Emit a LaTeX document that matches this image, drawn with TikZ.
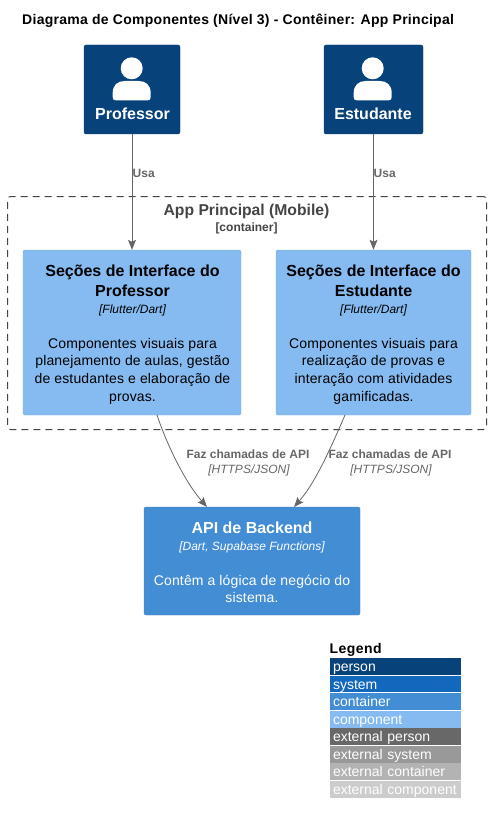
\documentclass[tikz,border=0pt]{standalone}
\usepackage{fontspec}
\setmainfont{Liberation Sans}
\usetikzlibrary{arrows.meta}
\definecolor{personblue}{HTML}{08427B}
\definecolor{systemblue}{HTML}{1168BD}
\definecolor{containerblue}{HTML}{438DD5}
\definecolor{componentblue}{HTML}{85BBF0}
\definecolor{extperson}{HTML}{686868}
\definecolor{extsystem}{HTML}{999999}
\definecolor{extcontainer}{HTML}{B3B3B3}
\definecolor{extcomponent}{HTML}{CCCCCC}
\definecolor{relgrey}{HTML}{666666}
\definecolor{boundgrey}{HTML}{444444}
\newcommand{\boxtitle}{\fontsize{16}{17.6}\bfseries\upshape\selectfont}
\newcommand{\boxtech}{\fontsize{12}{17.6}\mdseries\itshape\selectfont}
\newcommand{\boxdesc}{\fontsize{14}{17.6}\mdseries\upshape\selectfont\addfontfeature{LetterSpace=1}}
\newcommand{\personicon}[1]{%
\begin{scope}[shift={(#1,0)}]
\fill[white] (0,68.3) circle (11) ;
\fill[white] (-19,97) -- (-19,93) .. controls (-19,85) and (-14,81) .. (-7,81) -- (7,81) .. controls (14,81) and (19,85) .. (19,93) -- (19,97) .. controls (19,99.5) and (18,100.3) .. (16,100.3) -- (-16,100.3) .. controls (-18,100.3) and (-19,99.5) .. (-19,97) -- cycle ;
\end{scope}}
\tikzset{
  personbox/.style={draw=personblue!90!black, fill=personblue, rounded corners=2pt, minimum height=89pt, inner sep=0pt},
  compbox/.style={draw=componentblue!92!black, fill=componentblue, rounded corners=2pt, minimum height=165pt, inner sep=0pt},
  apibox/.style={draw=containerblue!92!black, fill=containerblue, rounded corners=2pt, minimum width=216pt, minimum height=108pt, inner sep=0pt},
  boxbody/.style={anchor=base, inner sep=0pt, align=center, font=\fontsize{14}{17.6}\selectfont, execute at begin node={\lineskiplimit=-50pt}},
  rel/.style={draw=relgrey, line width=0.8pt, -{Stealth[length=10pt,width=8pt,inset=2pt]}},
  rellabel/.style={text=relgrey, inner sep=0pt, align=center},
  legendrow/.style={anchor=north west, text width=125pt, text height=13.5pt, text depth=3pt, inner xsep=3pt, inner ysep=0pt, outer sep=0pt, text=white, font=\fontsize{14}{16}\selectfont},
}
\begin{document}
\begin{tikzpicture}[x=1pt,y=-1pt]
\useasboundingbox (0,0) rectangle (491,824) ;
\node[anchor=base west, inner sep=0pt, font=\fontsize{14}{16}\bfseries\selectfont\addfontfeature{LetterSpace=2}] (title) at (22,25) {Diagrama de Componentes (Nível 3) - Contêiner: App Principal} ;
% boundary
\node[draw=boundgrey, dash pattern=on 7pt off 5pt, rounded corners=3pt, line width=1pt, minimum width=479pt, minimum height=233pt, inner sep=0pt] (appbound) at (247,313) {} ;
\node[anchor=base, inner sep=0pt, text=boundgrey, font=\fontsize{15.7}{18}\bfseries\selectfont] (boundtitle) at (246.5,215) {App Principal (Mobile)} ;
\node[anchor=base, inner sep=0pt, text=boundgrey, font=\fontsize{12}{14}\bfseries\selectfont] (boundtype) at (246.5,231) {[container]} ;
% persons
\node[personbox, minimum width=96pt] (prof) at (132,89.5) {} ;
\node[personbox, minimum width=99pt] (estud) at (373.5,89.5) {} ;
\personicon{131.7}
\personicon{372.7}
\node[anchor=base, inner sep=0pt, text=white, font=\fontsize{16}{18}\bfseries\selectfont] (proflabel) at (132.5,120) {Professor} ;
\node[anchor=base, inner sep=0pt, text=white, font=\fontsize{16}{18}\bfseries\selectfont] (estudlabel) at (373,120) {Estudante} ;
% components
\node[compbox, minimum width=218pt] (secprof) at (132,332.5) {} ;
\node[compbox, minimum width=195pt] (secestud) at (373.5,332.5) {} ;
\node[apibox] (api) at (252,561) {} ;
\node[boxbody] (secproftext) at (132.5,401) {\boxtitle Seções de Interface do\\[2.4pt]\boxtitle Professor\\[-1.3pt]\boxtech [Flutter/Dart]\\[17.4pt]\boxdesc Componentes visuais para\\\boxdesc planejamento de aulas, gestão\\\boxdesc de estudantes e elaboração de\\\boxdesc provas.} ;
\node[boxbody] (secestudtext) at (373.5,401) {\boxtitle Seções de Interface do\\[2.4pt]\boxtitle Estudante\\[-1.3pt]\boxtech [Flutter/Dart]\\[17.4pt]\boxdesc Componentes visuais para\\\boxdesc realização de provas e\\\boxdesc interação com atividades\\\boxdesc gamificadas.} ;
\node[boxbody, text=white] (apitext) at (252,602.7) {\boxtitle API de Backend\\[-0.9pt]\boxtech [Dart, Supabase Functions]\\[17.4pt]\boxdesc Contêm a lógica de negócio do\\\boxdesc sistema.} ;
% relations
\draw[rel] (prof.south) -- (secprof.north) ;
\draw[rel] (estud.south) -- (secestud.north) ;
\coordinate (profout) at (157,415) ;
\coordinate (estudout) at (345,415) ;
\coordinate (apileft) at (207,507) ;
\coordinate (apiright) at (294,507) ;
\draw[rel] (profout) .. controls (167,445) and (185,482) .. (apileft) ;
\draw[rel] (estudout) .. controls (332,445) and (316,482) .. (apiright) ;
\node[rellabel, anchor=base west, font=\fontsize{12}{14}\bfseries\selectfont] (usaprof) at (132.5,177) {Usa} ;
\node[rellabel, anchor=base west, font=\fontsize{12}{14}\bfseries\selectfont] (usaestud) at (373.5,177) {Usa} ;
\node[rellabel, anchor=base, font=\fontsize{12}{14}\bfseries\selectfont] (callprof) at (248,458) {Faz chamadas de API} ;
\node[rellabel, anchor=base, font=\fontsize{12}{14}\itshape\selectfont] (techprof) at (249,473) {[HTTPS/JSON]} ;
\node[rellabel, anchor=base, font=\fontsize{12}{14}\bfseries\selectfont] (callestud) at (390,458) {Faz chamadas de API} ;
\node[rellabel, anchor=base, font=\fontsize{12}{14}\itshape\selectfont] (techestud) at (391,473) {[HTTPS/JSON]} ;
% legend
\node[anchor=base west, inner sep=0pt, font=\fontsize{14}{16}\bfseries\selectfont\addfontfeature{LetterSpace=3}] (legendtitle) at (329.5,653) {Legend} ;
\node[legendrow, fill=personblue] (rowperson) at (330,658) {person} ;
\node[legendrow, fill=systemblue] (rowsystem) at (330,675.5) {system} ;
\node[legendrow, fill=containerblue] (rowcontainer) at (330,693) {container} ;
\node[legendrow, fill=componentblue] (rowcomponent) at (330,711) {component} ;
\node[legendrow, fill=extperson] (rowextperson) at (330,728) {external person} ;
\node[legendrow, fill=extsystem] (rowextsystem) at (330,746) {external system} ;
\node[legendrow, fill=extcontainer] (rowextcontainer) at (330,763) {external container} ;
\node[legendrow, fill=extcomponent] (rowextcomponent) at (330,781) {external component} ;
\end{tikzpicture}
\end{document}
